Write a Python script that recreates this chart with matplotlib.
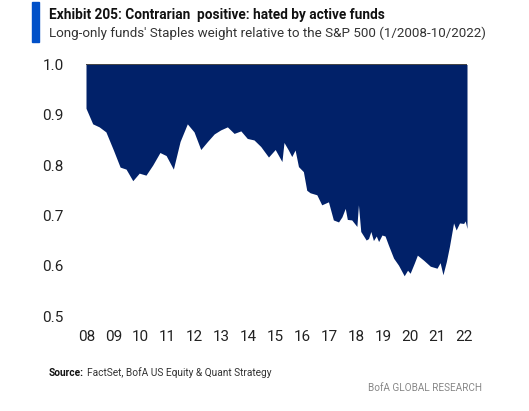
import numpy as np
import matplotlib.pyplot as plt

# === Data ===
years = [2008.00, 2008.26, 2008.51, 2008.77, 2009.06, 2009.32, 2009.55, 2009.81,
         2010.06, 2010.32, 2010.58, 2010.86, 2011.10, 2011.38, 2011.64, 2011.92,
         2012.18, 2012.44, 2012.70, 2012.96, 2013.21, 2013.47, 2013.73, 2013.99,
         2014.24, 2014.50, 2014.76, 2015.06, 2015.32, 2015.58, 2015.66, 2015.83,
         2015.96, 2016.09, 2016.22, 2016.41, 2016.54, 2016.67, 2016.93, 2017.12,
         2017.38, 2017.57, 2017.77, 2017.90, 2018.03, 2018.11, 2018.28, 2018.48,
         2018.54, 2018.63, 2018.84, 2018.93, 2019.02, 2019.12, 2019.23, 2019.32,
         2019.45, 2019.57, 2019.70, 2019.90, 2020.09, 2020.31, 2020.44, 2020.54,
         2020.70, 2020.82, 2021.06, 2021.32, 2021.58, 2021.70, 2021.81, 2021.94,
         2022.06, 2022.22, 2022.32, 2022.45, 2022.61, 2022.67, 2022.74]
weight = [0.913, 0.882, 0.876, 0.866, 0.830, 0.796, 0.792, 0.769,
          0.784, 0.780, 0.800, 0.825, 0.819, 0.792, 0.847, 0.882,
          0.866, 0.831, 0.847, 0.862, 0.870, 0.876, 0.863, 0.868,
          0.853, 0.850, 0.837, 0.816, 0.831, 0.807, 0.845, 0.830,
          0.817, 0.830, 0.797, 0.787, 0.750, 0.745, 0.741, 0.721,
          0.727, 0.691, 0.687, 0.697, 0.714, 0.692, 0.691, 0.678,
          0.721, 0.668, 0.651, 0.654, 0.668, 0.650, 0.659, 0.648,
          0.661, 0.659, 0.641, 0.615, 0.601, 0.580, 0.591, 0.585,
          0.605, 0.621, 0.611, 0.599, 0.595, 0.606, 0.582, 0.608,
          0.638, 0.685, 0.671, 0.685, 0.684, 0.689, 0.674]
baseline = 1.0
year_labels = ["08", "09", "10", "11", "12", "13", "14", "15", "16", "17",
               "18", "19", "20", "21", "22"]
y_ticks = [0.5, 0.6, 0.7, 0.8, 0.9, 1.0]

# === Style ===
navy = "#012169"
plt.rcParams["font.family"] = ["Roboto", "DejaVu Sans"]

W, H = 529, 411
fig = plt.figure(figsize=(W / 100, H / 100), dpi=100)
ax = fig.add_axes([86 / W, 1 - 316 / H, (467 - 86) / W, (316 - 64.5) / H])

ax.fill_between(years, weight, baseline, color=navy, linewidth=0)
ax.plot([years[0], years[-1]], [baseline, baseline], color="#222222", lw=1.2)

ax.set_xlim(years[0], years[-1])
ax.set_ylim(0.5, 1.0)
ax.set_yticks(y_ticks)
ax.set_yticklabels([f"{v:.1f}" for v in y_ticks])
ax.set_xticks(np.linspace(2008.03, 2022.63, len(year_labels)))
ax.set_xticklabels(year_labels)
ax.tick_params(axis="both", length=0, labelsize=11, colors="#222222")
ax.tick_params(axis="y", pad=16)
ax.tick_params(axis="x", pad=10)
for s in ax.spines.values():
    s.set_visible(False)

# === Titles & notes ===
fig.patches.append(plt.Rectangle((32 / W, 1 - 42 / H), 7 / W, 40 / H,
                                 transform=fig.transFigure, color="#0050C8"))
fig.text(49 / W, 1 - 15 / H, "Exhibit 205: Contrarian  positive: hated by active funds",
         fontsize=9.8, fontweight="bold", va="center", color="#111111")
fig.text(49 / W, 1 - 33 / H,
         "Long-only funds' Staples weight relative to the S&P 500 (1/2008-10/2022)",
         fontsize=9.6, va="center", color="#333333")
fig.text(49 / W, 1 - 373 / H, "Source:", fontsize=7.3, fontweight="bold",
         va="center", color="#111111")
fig.text(87 / W, 1 - 373 / H, "FactSet, BofA US Equity & Quant Strategy",
         fontsize=7.3, va="center", color="#333333")
fig.text(482 / W, 1 - 388 / H, "BofA GLOBAL RESEARCH", fontsize=7.2,
         va="center", ha="right", color="#888888")

fig.savefig("out.png", dpi=100)
